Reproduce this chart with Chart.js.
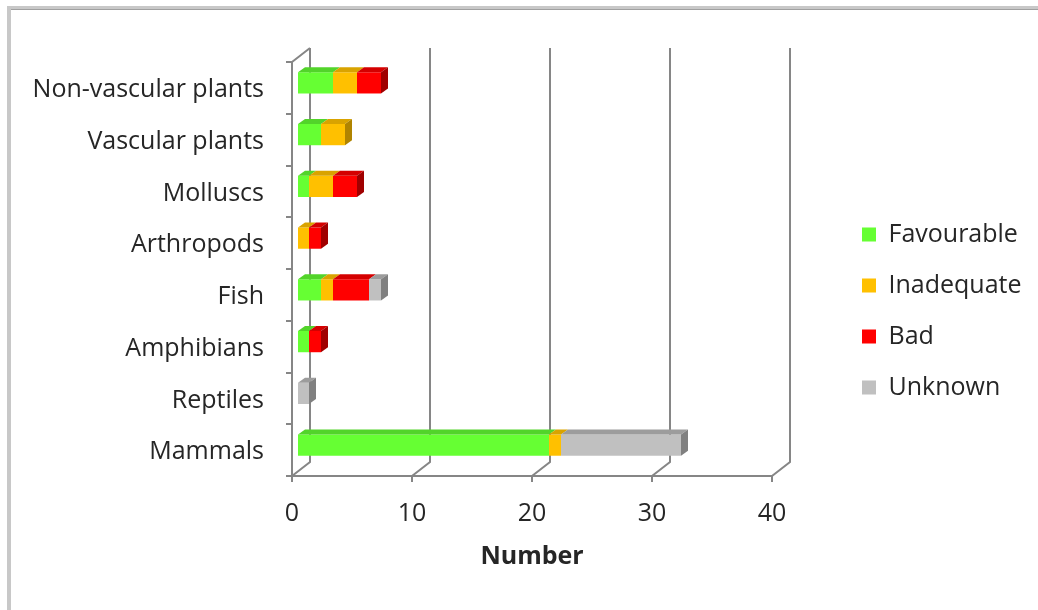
<!DOCTYPE html>
<html>
<head>
<meta charset="utf-8">
<script src="https://cdn.jsdelivr.net/npm/chart.js@4/dist/chart.umd.min.js"></script>
<style>
  body { margin: 0; background: #fff; }
  .wrap { position: relative; width: 1038px; height: 610px; overflow: hidden; }
  .frame-top { position: absolute; left: 7px; top: 6px; right: 0; height: 4px; background: #c8c8c8; }
  .frame-top-line { position: absolute; left: 11px; top: 9px; right: 0; height: 1px; background: #a0a0a0; }
  .frame-left { position: absolute; left: 7px; top: 6px; width: 4px; bottom: 0; background: #c8c8c8; }
  canvas { position: absolute; left: 0; top: 0; }
</style>
</head>
<body>
<div class="wrap">
  <div class="frame-top"></div>
  <div class="frame-top-line"></div>
  <div class="frame-left"></div>
  <canvas id="chart" width="1038" height="610"></canvas>
</div>
<script>
// Data
const categories = ['Non-vascular plants', 'Vascular plants', 'Molluscs', 'Arthropods', 'Fish', 'Amphibians', 'Reptiles', 'Mammals'];
const favourable = [3, 2, 1, 0, 2, 1, 0, 21];
const inadequate = [2, 2, 2, 1, 1, 0, 0, 1];
const bad        = [2, 0, 2, 1, 3, 1, 0, 0];
const unknown    = [0, 0, 0, 0, 1, 0, 1, 10];
const xTicks = [0, 10, 20, 30, 40];

const axisColor = '#868686';
const textColor = '#262626';

// front / top / side shades for the 3D look
const shades = [
    { front: '#66ff33', top: '#52d42a', side: '#45b022' },
    { front: '#ffc000', top: '#d9a300', side: '#b08400' },
    { front: '#ff0000', top: '#d40000', side: '#a00000' },
    { front: '#c0c0c0', top: '#9c9c9c', side: '#808080' }
];

// Excel style 3D walls + bar depth
const wall = { dx: 18, dy: 14 };
const barDepth = { dx: 7, dy: 5 };
const barShift = { dx: 5, dy: -5 };
const legendShift = 64;

const walls3d = {
    id: 'walls3d',
    afterLayout(chart) {
        // legend sits further right than the plot edge
        chart.legend.left += legendShift;
        chart.legend.right += legendShift;
    },
    beforeDatasetsDraw(chart) {
        const { ctx, chartArea: a, scales: { x } } = chart;
        ctx.save();
        ctx.strokeStyle = axisColor;
        ctx.lineWidth = 2;
        ctx.beginPath();
        // left wall top edge
        ctx.moveTo(a.left, a.top);
        ctx.lineTo(a.left + wall.dx, a.top - wall.dy);
        xTicks.forEach(v => {
            const px = x.getPixelForValue(v);
            ctx.moveTo(px, a.bottom);
            ctx.lineTo(px + wall.dx, a.bottom - wall.dy);
            ctx.lineTo(px + wall.dx, a.top - wall.dy);
        });
        ctx.stroke();
        ctx.restore();
        // shift the bars to sit inside the box
        ctx.save();
        ctx.translate(barShift.dx, barShift.dy);
    },
    afterDatasetsDraw(chart) {
        const { ctx } = chart;
        const last = [];
        chart.data.datasets.forEach((ds, di) => {
            const meta = chart.getDatasetMeta(di);
            meta.data.forEach((bar, i) => {
                if (!ds.data[i]) return;
                const h = bar.height / 2;
                const x0 = Math.min(bar.base, bar.x), x1 = Math.max(bar.base, bar.x);
                ctx.fillStyle = shades[di].top;
                ctx.beginPath();
                ctx.moveTo(x0, bar.y - h);
                ctx.lineTo(x1, bar.y - h);
                ctx.lineTo(x1 + barDepth.dx, bar.y - h - barDepth.dy);
                ctx.lineTo(x0 + barDepth.dx, bar.y - h - barDepth.dy);
                ctx.closePath();
                ctx.fill();
                last[i] = { bar, di, x1, h };
            });
        });
        last.forEach(l => {
            if (!l) return;
            const { bar, di, x1, h } = l;
            ctx.fillStyle = shades[di].side;
            ctx.beginPath();
            ctx.moveTo(x1, bar.y - h);
            ctx.lineTo(x1 + barDepth.dx, bar.y - h - barDepth.dy);
            ctx.lineTo(x1 + barDepth.dx, bar.y + h - barDepth.dy);
            ctx.lineTo(x1, bar.y + h);
            ctx.closePath();
            ctx.fill();
        });
        ctx.restore();
    }
};

Chart.defaults.font.family = '"Open Sans", sans-serif';
Chart.defaults.font.size = 25;
Chart.defaults.color = textColor;

const ctx = document.getElementById('chart').getContext('2d');
new Chart(ctx, {
    type: 'bar',
    data: {
        labels: categories,
        datasets: [
            { label: 'Favourable', data: favourable, backgroundColor: shades[0].front },
            { label: 'Inadequate', data: inadequate, backgroundColor: shades[1].front },
            { label: 'Bad', data: bad, backgroundColor: shades[2].front },
            { label: 'Unknown', data: unknown, backgroundColor: shades[3].front }
        ]
    },
    options: {
        indexAxis: 'y',
        responsive: false,
        animation: false,
        barPercentage: 0.41,
        categoryPercentage: 1,
        borderWidth: 0,
        layout: { padding: { left: 0, right: 12, top: 12, bottom: 0 } },
        scales: {
            x: {
                stacked: true,
                min: 0,
                max: 40,
                afterBuildTicks: s => { s.ticks = xTicks.map(v => ({ value: v })); },
                afterFit: s => { s.height = 134; s.paddingRight = 266; },
                ticks: { padding: 17 },
                grid: { drawOnChartArea: false, tickLength: 6, color: axisColor, lineWidth: 2 },
                border: { display: true, color: axisColor, width: 2 },
                title: { display: true, text: 'Number', font: { weight: 'bold' }, padding: { top: 0, bottom: 38 } }
            },
            y: {
                stacked: true,
                afterFit: s => { s.width = 292; s.paddingTop = 62; },
                ticks: { padding: 22, labelOffset: 2 },
                grid: { drawOnChartArea: false, offset: true, tickLength: 6, color: axisColor, lineWidth: 2 },
                border: { display: true, color: axisColor, width: 2 }
            }
        },
        plugins: {
            legend: {
                position: 'right',
                labels: { boxWidth: 14, boxHeight: 14, padding: 26 }
            },
            tooltip: { enabled: false }
        }
    },
    plugins: [walls3d]
});
</script>
</body>
</html>
